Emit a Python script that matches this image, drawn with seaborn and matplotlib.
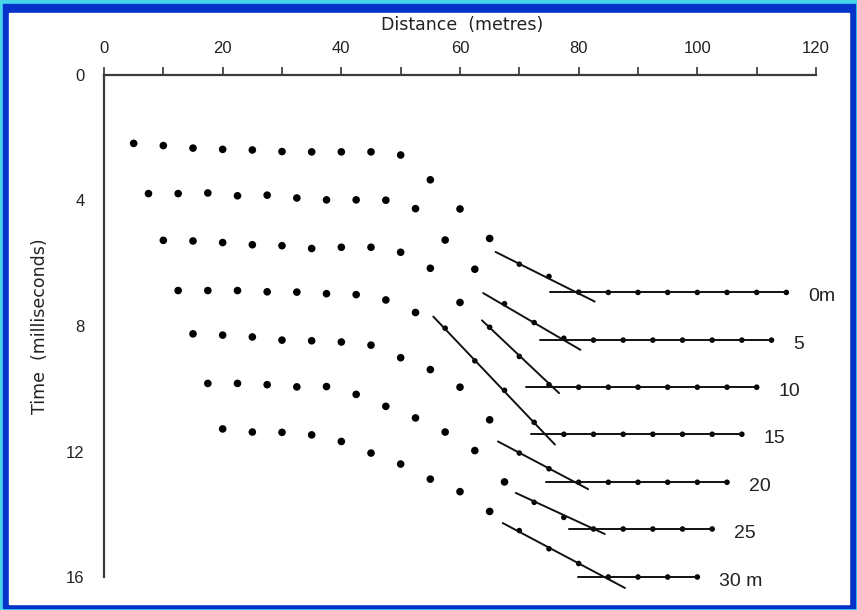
import numpy as np
import pandas as pd
import seaborn as sns
import matplotlib.pyplot as plt
from matplotlib.patches import Rectangle

# -----------------------------
# Data
# -----------------------------
offset_labels = ["0m", "5", "10", "15", "20", "25", "30 m"]
row_start = [5, 7.5, 10, 12.5, 15, 17.5, 20]   # distance of first geophone per row
spacing = 5

times_0 = [2.18, 2.25, 2.33, 2.37, 2.39, 2.44, 2.45, 2.45, 2.45, 2.55, 3.34, 4.27,
           5.21, 6.03, 6.42, 6.92, 6.93, 6.93, 6.93, 6.93, 6.93, 6.93, 6.93]
times_5 = [3.78, 3.78, 3.76, 3.85, 3.83, 3.92, 3.98, 3.98, 3.99, 4.26, 5.26, 6.19,
           7.29, 7.89, 8.39, 8.45, 8.45, 8.45, 8.45, 8.45, 8.45, 8.45]
times_10 = [5.27, 5.29, 5.34, 5.41, 5.44, 5.53, 5.49, 5.49, 5.65, 6.16, 7.25, 8.04,
            8.97, 9.87, 9.95, 9.95, 9.95, 9.95, 9.95, 9.95, 9.95]
times_15 = [6.87, 6.87, 6.87, 6.91, 6.92, 6.97, 7.00, 7.17, 7.57, 8.07, 9.11, 10.05,
            11.07, 11.45, 11.45, 11.45, 11.45, 11.45, 11.45, 11.45]
times_20 = [8.25, 8.29, 8.35, 8.45, 8.47, 8.51, 8.61, 9.01, 9.39, 9.95, 10.99, 12.05,
            12.55, 12.98, 12.98, 12.98, 12.98, 12.98, 12.98]
times_25 = [9.83, 9.83, 9.87, 9.94, 9.93, 10.18, 10.56, 10.93, 11.38, 11.97, 12.97,
            13.62, 14.10, 14.47, 14.47, 14.47, 14.47, 14.47]
times_30 = [11.28, 11.38, 11.39, 11.47, 11.68, 12.05, 12.40, 12.88, 13.28, 13.91,
            14.52, 15.10, 15.57, 16.0, 16.0, 16.0, 16.0]
all_times = [times_0, times_5, times_10, times_15, times_20, times_25, times_30]

# fitted line segments for each row
slope_x0 = [66.0, 63.9, 63.7, 55.5, 66.4, 69.4, 67.2]
slope_t0 = [5.64, 6.95, 7.82, 7.70, 11.68, 13.32, 14.28]
slope_x1 = [82.7, 80.3, 76.7, 76.0, 81.6, 84.4, 87.8]
slope_t1 = [7.22, 8.76, 10.14, 11.78, 13.2, 14.63, 16.35]
flat_t = [6.93, 8.45, 9.95, 11.45, 12.98, 14.47, 16.0]
flat_x0 = [75.1, 73.5, 71.1, 72.0, 74.5, 78.4, 79.9]
flat_x1 = [115, 112.5, 110, 107.5, 105, 102.5, 100]

x_ticks = [0, 10, 20, 30, 40, 50, 60, 70, 80, 90, 100, 110, 120]
y_ticks = [0, 2, 4, 6, 8, 10, 12, 14, 16]

# -----------------------------
# Long-form table
# -----------------------------
recs = []
for i, times in enumerate(all_times):
    xs = np.arange(len(times)) * spacing + row_start[i]
    for x, t in zip(xs, times):
        recs.append({"row": i, "dist": x, "time": t, "on_line": x >= slope_x0[i]})
df = pd.DataFrame(recs)

# -----------------------------
# Figure
# -----------------------------
sns.set_style("white")
plt.rcParams["font.family"] = ["Liberation Sans", "DejaVu Sans"]

W, H = 857, 610
fig = plt.figure(figsize=(W / 100, H / 100), dpi=100, facecolor="#46d6ea")
fig.patches.append(Rectangle((3 / W, 2 / H), (W - 5) / W, (H - 6) / H,
                             transform=fig.transFigure, color="#0532c8", zorder=-2))
fig.patches.append(Rectangle((9 / W, 6 / H), (849 - 9) / W, (604 - 13) / H,
                             transform=fig.transFigure, color="white", zorder=-1))

ax = fig.add_axes([104 / W, (H - 577) / H, (816 - 104) / W, (577 - 75) / H])
ax.set_facecolor("none")

sns.scatterplot(data=df[~df.on_line], x="dist", y="time", s=30, color="black",
                edgecolor="none", legend=False, ax=ax, clip_on=False)
sns.scatterplot(data=df[df.on_line], x="dist", y="time", s=16, color="black",
                edgecolor="none", legend=False, ax=ax, clip_on=False)

for i in range(len(all_times)):
    ax.plot([slope_x0[i], slope_x1[i]], [slope_t0[i], slope_t1[i]],
            color="#111111", lw=1.4, clip_on=False)
    ax.plot([flat_x0[i], flat_x1[i]], [flat_t[i], flat_t[i]],
            color="#111111", lw=1.4, clip_on=False)
    ax.text(flat_x1[i] + 3.7, flat_t[i] + 0.14, offset_labels[i], fontsize=14,
            ha="left", va="center", color="#222222")

ax.set_xlim(0, 120)
ax.set_ylim(16, 0)
ax.xaxis.tick_top()
ax.set_xticks(x_ticks)
ax.set_xticklabels([str(v) if v % 20 == 0 else "" for v in x_ticks])
ax.set_yticks(y_ticks)
ax.set_yticklabels([str(v) if v % 4 == 0 else "" for v in y_ticks])
ax.tick_params(direction="out", length=6, width=1.2, color="#333333",
               labelsize=12, labelcolor="#222222", pad=8)
ax.set_xlabel("")
ax.set_ylabel("")

for side in ["right", "bottom"]:
    ax.spines[side].set_visible(False)
for side in ["top", "left"]:
    ax.spines[side].set_color("#3a3a3a")
    ax.spines[side].set_linewidth(1.6)

fig.text(462 / W, (H - 25) / H, "Distance  (metres)", fontsize=12.5, ha="center",
         va="center", color="#222222", family=["DejaVu Sans"])
fig.text(40 / W, (H - 326) / H, "Time  (milliseconds)", fontsize=12.5, ha="center",
         va="center", rotation=90, color="#222222", family=["DejaVu Sans"])

fig.savefig("out.png", dpi=100)
